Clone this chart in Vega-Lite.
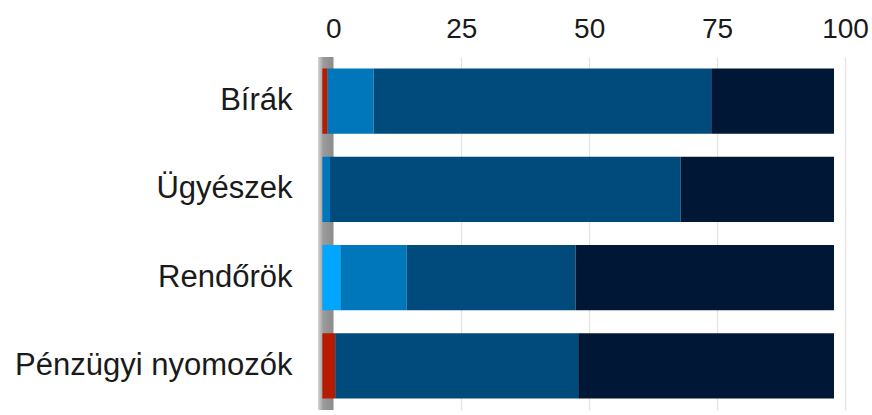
{
  "$schema": "https://vega.github.io/schema/vega-lite/v6.json",
  "width": 527,
  "height": 353,
  "autosize": "none",
  "padding": {"left": 318, "top": 57, "right": 27, "bottom": 5},
  "background": "white",
  "config": {"view": {"stroke": null}, "font": "Liberation Sans"},
  "datasets": {
    "bars": [
      {"csoport": "Bírák", "kategoria": "1. kategória", "rend": 1, "ertek": 1},
      {"csoport": "Bírák", "kategoria": "3. kategória", "rend": 3, "ertek": 9},
      {"csoport": "Bírák", "kategoria": "4. kategória", "rend": 4, "ertek": 66},
      {"csoport": "Bírák", "kategoria": "5. kategória", "rend": 5, "ertek": 24},
      {"csoport": "Ügyészek", "kategoria": "3. kategória", "rend": 3, "ertek": 1.5},
      {"csoport": "Ügyészek", "kategoria": "4. kategória", "rend": 4, "ertek": 68.5},
      {"csoport": "Ügyészek", "kategoria": "5. kategória", "rend": 5, "ertek": 30},
      {"csoport": "Rendőrök", "kategoria": "2. kategória", "rend": 2, "ertek": 3.5},
      {"csoport": "Rendőrök", "kategoria": "3. kategória", "rend": 3, "ertek": 13},
      {"csoport": "Rendőrök", "kategoria": "4. kategória", "rend": 4, "ertek": 33},
      {"csoport": "Rendőrök", "kategoria": "5. kategória", "rend": 5, "ertek": 50.5},
      {"csoport": "Pénzügyi nyomozók", "kategoria": "1. kategória", "rend": 1, "ertek": 2.5},
      {"csoport": "Pénzügyi nyomozók", "kategoria": "4. kategória", "rend": 4, "ertek": 47.5},
      {"csoport": "Pénzügyi nyomozók", "kategoria": "5. kategória", "rend": 5, "ertek": 50}
    ],
    "wall": [{"x": -3, "x2": 0}]
  },
  "layer": [
    {
      "data": {"name": "wall"},
      "mark": {
        "type": "rect",
        "color": {
          "gradient": "linear", "x1": 0, "x2": 1, "y1": 0, "y2": 0,
          "stops": [
            {"offset": 0, "color": "#d4d4d4"},
            {"offset": 0.35, "color": "#9a9a9a"},
            {"offset": 1, "color": "#8c8c8c"}
          ]
        }
      },
      "encoding": {
        "x": {"field": "x", "type": "quantitative", "scale": {"domain": [-3, 100], "nice": false, "zero": false},
          "axis": {
            "orient": "top", "values": [0, 25, 50, 75, 100], "title": null,
            "domain": false, "ticks": false, "labelFontSize": 28, "labelColor": "#1a1a1a",
            "labelPadding": 14, "grid": true, "gridColor": "#e2e2e2", "gridWidth": 1.2,
            "labelFont": "Liberation Sans", "labelFlush": false
          }},
        "x2": {"field": "x2"}
      }
    },
    {
      "data": {"name": "bars"},
      "mark": {"type": "bar", "xOffset": -11, "x2Offset": -11},
      "encoding": {
        "y": {
          "field": "csoport", "type": "nominal",
          "sort": ["Bírák", "Ügyészek", "Rendőrök", "Pénzügyi nyomozók"],
          "scale": {"paddingInner": 0.26, "paddingOuter": 0.13},
          "axis": {
            "title": null, "domain": false, "ticks": false, "labelFontSize": 31,
            "labelColor": "#1a1a1a", "labelPadding": 26, "labelFont": "Liberation Sans",
            "labelLimit": 0
          }
        },
        "x": {"field": "ertek", "type": "quantitative", "stack": "zero"},
        "order": {"field": "rend", "type": "quantitative"},
        "color": {
          "field": "kategoria", "type": "nominal", "legend": null,
          "scale": {
            "domain": ["1. kategória", "2. kategória", "3. kategória", "4. kategória", "5. kategória"],
            "range": ["#b71c00", "#00a6ff", "#0077bb", "#004a7c", "#001835"]
          }
        }
      }
    }
  ]
}
